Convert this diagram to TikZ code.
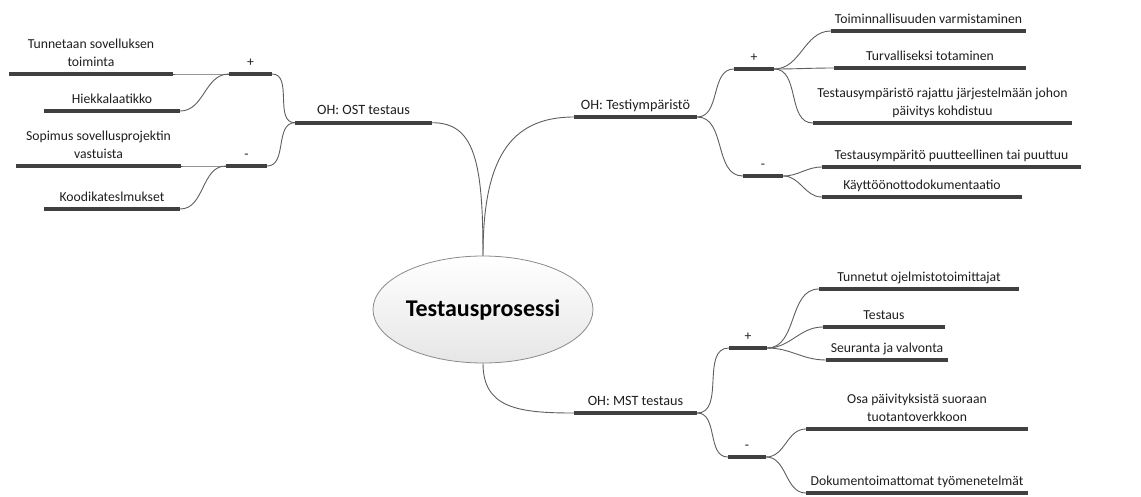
\documentclass[tikz,border=0pt]{standalone}
\usepackage{fontspec}
\setmainfont{Carlito}
\usetikzlibrary{shapes.geometric}
\definecolor{barcol}{HTML}{404040}
\definecolor{linkcol}{HTML}{5E5E5E}
\definecolor{txtcol}{HTML}{1E1E1E}
\definecolor{rimcol}{HTML}{8A8A8A}
\definecolor{shadecol}{HTML}{E6E6E6}
% two centred lines whose baseline is the lower line
\newcommand{\twolines}[2]{\begin{tabular}[b]{@{}c@{}}#1\\#2\end{tabular}}
% a topic: thick bar with its text set just above it
\newcommand{\topic}[5]{%
  \node[bar=#4] (#1) at (#2,#3) {};
  \node[lbl] (#1-t) at ([yshift=8pt]#1.center) {#5};}
\begin{document}
\begin{tikzpicture}[x=1pt,y=-1pt,
  bar/.style={rectangle, fill=barcol, inner sep=0pt, minimum height=4pt, minimum width=#1},
  lbl/.style={anchor=base, inner sep=0pt, text=txtcol, font=\fontsize{13.7}{17.5}\selectfont},
  link/.style={draw=linkcol, line width=0.9pt},
  toleft/.style={out=180, in=0},
  toright/.style={out=0, in=180},
  rootnode/.style={ellipse, draw=rimcol, line width=0.8pt, top color=white,
    bottom color=shadecol, minimum width=220pt, minimum height=107pt, inner sep=0pt,
    text=black, font=\bfseries\fontsize{24}{28}\selectfont}]

\useasboundingbox (0,0) rectangle (1141,496);

% central topic
\node[rootnode] (root) at (483,309.5) {Testausprosessi};

% left branch
\topic{ost}{363.5}{122.7}{137pt}{\fontsize{14.2}{17.5}\selectfont OH: OST testaus}
\topic{lp}{250.5}{74}{43pt}{+}
\topic{lm}{246.5}{166}{41pt}{-}
\topic{l1}{91}{74}{164pt}{\twolines{Tunnetaan sovelluksen}{toiminta}}
\topic{l2}{112}{111}{136pt}{Hiekkalaatikko}
\topic{l3}{98.5}{166}{165pt}{\twolines{Sopimus sovellusprojektin}{vastuista}}
\topic{l4}{112}{209}{136pt}{Koodikateslmukset}

% upper right branch
\topic{ty}{635.5}{117}{123pt}{\fontsize{14.2}{17.5}\selectfont OH: Testiympäristö}
\topic{tp}{754}{69}{40pt}{+}
\topic{tm}{763}{176}{40pt}{-}
\topic{t1}{928.5}{31}{195pt}{Toiminnallisuuden varmistaminen}
\topic{t2}{930}{68}{192pt}{Turvalliseksi totaminen}
\topic{t3}{942.5}{123}{259pt}{\twolines{Testausympäristö rajattu järjestelmään johon}{päivitys kohdistuu}}
\topic{t4}{951.5}{167}{259pt}{Testausympäritö puutteellinen tai puuttuu}
\topic{t5}{922}{197}{200pt}{Käyttöönottodokumentaatio}

% lower right branch
\topic{mst}{635.5}{413}{123pt}{\fontsize{14.2}{17.5}\selectfont OH: MST testaus}
\topic{mp}{748}{348}{38pt}{+}
\topic{mm}{747}{457}{38pt}{-}
\topic{m1}{919}{289}{200pt}{Tunnetut ojelmistotoimittajat}
\topic{m2}{884}{327}{122pt}{Testaus}
\topic{m3}{887}{360}{122pt}{Seuranta ja valvonta}
\topic{m4}{917}{429}{222pt}{\twolines{Osa päivityksistä suoraan}{tuotantoverkkoon}}
\topic{m5}{917}{493}{222pt}{Dokumentoimattomat työmenetelmät}

% connectors from the centre
\draw[link] (root.north) .. controls +(0,-95) and +(42,0) .. (ost.east);
\draw[link] (root.north) .. controls +(0,-95) and +(-65,0) .. (ty.west);
\draw[link] (root.south) .. controls +(0,45) and +(-55,0) .. (mst.west);

% left connectors
\draw[link] (ost.west) to[toleft] (lp.east);
\draw[link] (ost.west) to[toleft] (lm.east);
\draw[link] (lp.west) to[toleft] (l1.east);
\draw[link] (lp.west) to[toleft] (l2.east);
\draw[link] (lm.west) to[toleft] (l3.east);
\draw[link] (lm.west) to[toleft] (l4.east);

% upper right connectors
\draw[link] (ty.east) to[toright] (tp.west);
\draw[link] (ty.east) to[toright] (tm.west);
\draw[link] (tp.east) to[toright] (t1.west);
\draw[link] (tp.east) to[toright] (t2.west);
\draw[link] (tp.east) to[toright] (t3.west);
\draw[link] (tm.east) to[toright] (t4.west);
\draw[link] (tm.east) to[toright] (t5.west);

% lower right connectors
\draw[link] (mst.east) to[toright] (mp.west);
\draw[link] (mst.east) to[toright] (mm.west);
\draw[link] (mp.east) to[toright] (m1.west);
\draw[link] (mp.east) to[toright] (m2.west);
\draw[link] (mp.east) to[toright] (m3.west);
\draw[link] (mm.east) to[toright] (m4.west);
\draw[link] (mm.east) to[toright] (m5.west);
\end{tikzpicture}
\end{document}
